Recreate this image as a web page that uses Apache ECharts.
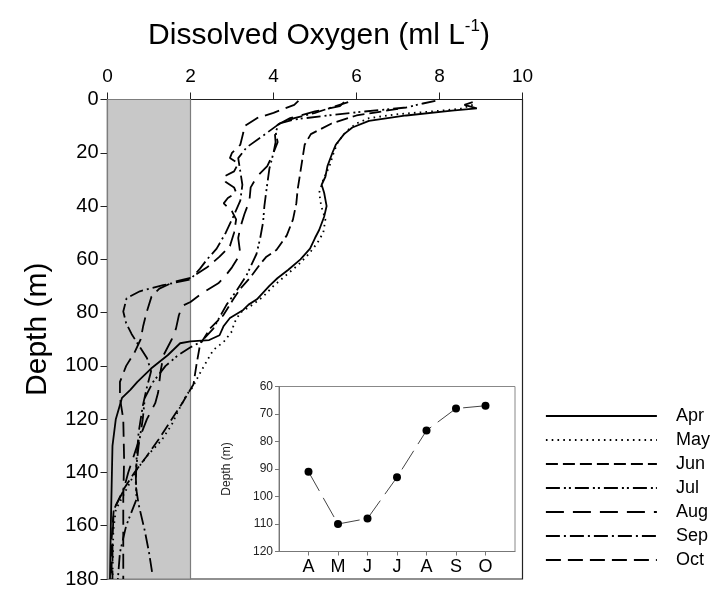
<!DOCTYPE html>
<html>
<head>
<meta charset="utf-8">
<script src="https://cdn.jsdelivr.net/npm/echarts@6/dist/echarts.min.js"></script>
<style>html,body{margin:0;padding:0;background:#fff}#c{width:714px;height:589px}</style>
</head>
<body>
<div id="c"></div>
<script>
// ---- data (DO in ml/L, depth in m) ----
const xTicks = [0, 2, 4, 6, 8, 10];
const depthTicks = [0, 20, 40, 60, 80, 100, 120, 140, 160, 180];
const hypoxiaThreshold = 2;
const months = ['Apr', 'May', 'Jun', 'Jul', 'Aug', 'Sep', 'Oct'];

const apr = [[8.8,1],[8.6,2],[8.9,3.3],[8.3,4.2],[7.2,6],[6.3,8],[5.9,10.5],[5.7,13],[5.5,17],[5.42,20],[5.3,25],[5.25,29],[5.16,32],[5.22,35],[5.28,40],[5.22,44],[5.1,49],[5.0,52],[4.88,56],[4.65,60],[4.35,64],[4.1,67],[3.9,70],[3.6,75],[3.4,77],[3.27,79],[2.95,82],[2.8,85],[2.7,88.5],[2.45,90.3],[2.0,90.8],[1.75,91.5],[1.45,96],[1.05,101],[0.72,106],[0.55,109],[0.35,112],[0.2,120],[0.12,130],[0.1,145],[0.08,160],[0.06,180]];
const may = [[8.8,2],[8.5,3.5],[7.8,4.5],[7.0,5.5],[6.3,7],[6.0,9],[5.75,12],[5.55,16],[5.45,20],[5.35,25],[5.2,30],[5.1,35],[5.15,40],[5.25,45],[5.2,50],[5.05,54],[4.85,58],[4.6,62],[4.3,66],[4.0,70],[3.75,74],[3.5,77],[3.2,80],[3.05,84],[3.0,87],[2.8,91],[2.55,94],[2.4,98],[2.22,103],[2.05,108],[1.9,111],[1.7,117],[1.55,122],[1.3,128],[1.0,133],[0.7,139],[0.4,148],[0.2,154],[0.14,162],[0.12,180]];
const jun = [[7.0,3.5],[6.4,5],[6.0,6],[5.4,9],[4.9,13],[4.75,17],[4.7,22],[4.64,28],[4.58,34],[4.55,39],[4.47,45],[4.32,51],[4.07,56.5],[3.83,59],[3.67,62],[3.43,67],[3.2,71],[3.03,75],[2.79,81],[2.47,86],[2.23,92],[2.15,99],[2.07,107],[1.8,114],[1.59,119],[1.26,127],[0.94,134],[0.65,140],[0.4,146],[0.15,154],[0.1,165],[0.1,180]];
const jul = [[7.9,0.5],[7.6,1.5],[7.2,3],[6.2,4.5],[5.3,6],[4.5,7.5],[4.15,9],[4.05,12],[4.1,16],[4.0,20],[3.9,26],[3.83,34],[3.78,40],[3.75,46],[3.68,52],[3.59,58],[3.35,66],[3.1,72],[2.87,77],[2.55,86],[2.25,91],[2.0,93],[1.7,96],[1.4,100],[1.1,106],[0.9,112],[0.85,120],[0.75,130],[0.68,140],[0.7,150],[0.45,160],[0.3,170],[0.25,180]];
const aug = [[5.7,1],[5.6,2.5],[5.0,4.5],[4.4,7],[4.1,9.5],[4.03,12],[4.05,16],[4.0,20],[3.85,25],[3.6,29],[3.45,33],[3.42,38],[3.3,43],[3.2,48],[3.15,52],[3.2,58],[3.0,63],[2.85,66],[2.67,69],[2.3,72.5],[2.0,76],[1.8,77.5],[1.72,81],[1.65,86],[1.55,90],[1.35,96],[1.28,102],[1.22,110],[1.15,114],[0.95,120],[0.8,126],[0.65,133],[0.5,140],[0.38,147],[0.15,154],[0.12,165],[0.12,180]];
const sep = [[5.8,1],[5.4,3],[5.0,5],[4.5,7],[4.15,9],[3.8,13],[3.35,18],[3.15,22],[3.2,27],[3.25,32],[3.2,38],[3.03,44],[2.85,50],[2.63,56],[2.4,60],[2.23,63.5],[2.0,67.5],[1.34,69.7],[0.78,72],[0.46,74.6],[0.38,79.6],[0.45,84],[0.58,88],[0.7,91],[0.95,97],[1.05,102],[0.95,108],[0.85,115],[0.75,125],[0.7,135],[0.68,145],[0.75,152],[0.9,162],[1.0,170],[1.08,178]];
const oct = [[4.6,0.5],[4.5,2],[4.0,5],[3.6,7],[3.3,10],[3.27,12.6],[3.2,17],[3.0,20],[2.95,22],[3.15,24],[3.05,27],[2.8,29],[2.85,31],[3.05,33],[3.1,35],[2.9,37],[2.8,39],[3.0,42],[3.1,45],[3.05,50],[2.95,55],[2.7,59],[2.4,63],[2.0,67],[1.6,68.5],[1.25,71],[1.06,74],[0.94,80],[0.86,85],[0.8,90],[0.65,95],[0.45,100],[0.3,106],[0.3,112],[0.38,120],[0.4,135],[0.38,150],[0.38,165],[0.38,180]];

// inset: depth of hypoxia onset per month
const insetMonths = ['A', 'M', 'J', 'J', 'A', 'S', 'O'];
const insetDepths = [91, 110, 108, 93, 76, 68, 67];
const insetTicks = [60, 70, 80, 90, 100, 110, 120];

const profiles = [apr, may, jun, jul, aug, sep, oct];
const dashes = ['solid', [1.6, 4.2], [12, 5], [14, 4, 2, 3, 2, 4], [18, 9], [14, 4, 2, 4], [15, 7]];

const FONT = 'Liberation Sans, Arial, sans-serif';
const chart = echarts.init(document.getElementById('c'), null, { renderer: 'canvas' });

const series = [{
  type: 'line', name: 'band', xAxisIndex: 0, yAxisIndex: 0, data: [], z: 0, silent: true,
  markArea: {
    silent: true,
    itemStyle: { color: '#c8c8c8', borderColor: '#7d7d7d', borderWidth: 1.2 },
    data: [[{ xAxis: 0 }, { xAxis: hypoxiaThreshold }]]
  }
}];
profiles.forEach((p, i) => {
  series.push({
    type: 'line', name: months[i], xAxisIndex: 0, yAxisIndex: 0, z: 3,
    data: p, symbol: 'none', showSymbol: false, smooth: false,
    itemStyle: { color: '#000' },
    lineStyle: { color: '#000', width: 1.8, type: dashes[i] }
  });
});
series.push({
  type: 'line', name: 'Hypoxia depth', xAxisIndex: 1, yAxisIndex: 1, z: 4,
  data: [null].concat(insetDepths, [null]),
  symbol: 'circle', symbolSize: 8, connectNulls: false,
  itemStyle: { color: '#000' },
  lineStyle: { color: '#444', width: 1, type: [22, 8] }
});

chart.setOption({
  animation: false,
  backgroundColor: '#fff',
  title: {
    text: '{a|Dissolved Oxygen (ml L}{s|-1}{a|)}',
    left: 314, top: 13, textAlign: 'center',
    textStyle: {
      fontWeight: 'normal',
      rich: {
        a: { fontSize: 30, fontFamily: FONT, fontWeight: 'normal', color: '#000', lineHeight: 36 },
        s: { fontSize: 17, fontFamily: FONT, fontWeight: 'normal', color: '#000', verticalAlign: 'top', lineHeight: 20 }
      }
    }
  },
  legend: {
    data: months, orient: 'vertical', left: 540, top: 402,
    itemWidth: 111, itemHeight: 14, itemGap: 6, selectedMode: false,
    itemStyle: { color: 'rgba(0,0,0,0)', borderColor: 'rgba(0,0,0,0)', borderWidth: 0, opacity: 0 },
    lineStyle: { width: 1.8 },
    textStyle: { fontSize: 18, fontFamily: FONT, color: '#000', padding: [0, 0, 0, 14] }
  },
  grid: [
    { left: 107.5, top: 99.5, width: 415, height: 483.5, show: true, borderColor: '#222', borderWidth: 1.2, backgroundColor: 'transparent' },
    { left: 279, top: 386.5, width: 236, height: 165, show: true, borderColor: '#888', borderWidth: 1, backgroundColor: 'transparent' }
  ],
  xAxis: [
    {
      gridIndex: 0, type: 'value', position: 'top', min: xTicks[0], max: xTicks[xTicks.length - 1], interval: 2,
      axisLine: { show: true, lineStyle: { color: '#222', width: 1.2 } },
      axisTick: { show: true, length: 7, lineStyle: { color: '#222' } },
      axisLabel: { fontSize: 19, fontFamily: FONT, color: '#000', margin: 13 },
      splitLine: { show: false }
    },
    {
      gridIndex: 1, type: 'category', data: [''].concat(insetMonths, ['']), boundaryGap: false,
      axisLine: { show: true, lineStyle: { color: '#777' } },
      axisTick: { show: true, length: 4, interval: (i) => i > 0 && i < insetMonths.length + 1, lineStyle: { color: '#777' } },
      axisLabel: { fontSize: 18, fontFamily: FONT, color: '#000', margin: 7, interval: 0 },
      splitLine: { show: false }
    }
  ],
  yAxis: [
    {
      gridIndex: 0, type: 'value', inverse: true, min: depthTicks[0], max: depthTicks[depthTicks.length - 1], interval: 20,
      name: 'Depth (m)', nameLocation: 'middle', nameGap: 55,
      nameTextStyle: { fontSize: 30, fontFamily: FONT, color: '#000', padding: [0, 0, 0, 20] },
      axisLine: { show: true, lineStyle: { color: '#222', width: 1.2 } },
      axisTick: { show: true, length: 7, lineStyle: { color: '#222' } },
      axisLabel: { fontSize: 20, fontFamily: FONT, color: '#000', margin: 9 },
      splitLine: { show: false }
    },
    {
      gridIndex: 1, type: 'value', inverse: true, min: insetTicks[0], max: insetTicks[insetTicks.length - 1], interval: 10,
      name: 'Depth (m)', nameLocation: 'middle', nameGap: 46,
      nameTextStyle: { fontSize: 12, fontFamily: FONT, color: '#222' },
      axisLine: { show: true, lineStyle: { color: '#777' } },
      axisTick: { show: true, length: 4, lineStyle: { color: '#777' } },
      axisLabel: { fontSize: 12, fontFamily: FONT, color: '#222', margin: 6 },
      splitLine: { show: false }
    }
  ],
  series: series
});
</script>
</body>
</html>
